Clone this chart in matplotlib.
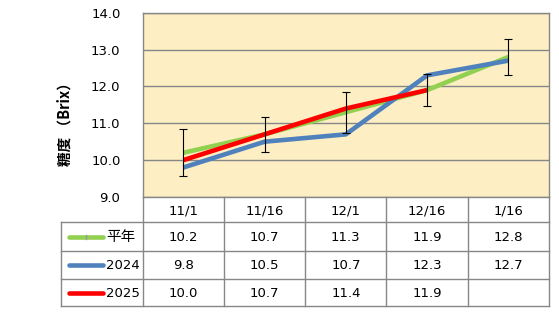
import matplotlib.pyplot as plt
from matplotlib.lines import Line2D
from matplotlib.transforms import blended_transform_factory

plt.rcParams['font.family'] = ['DejaVu Sans', 'Noto Sans CJK JP']

dates = ['11/1', '11/16', '12/1', '12/16', '1/16']
normal = [10.2, 10.7, 11.3, 11.9, 12.8]
y2024 = [9.8, 10.5, 10.7, 12.3, 12.7]
y2025 = [10.0, 10.7, 11.4, 11.9, None]
normal_err = [0.64, 0.47, 0.56, 0.43, 0.49]

series = [
    ('平年', normal, '#92D050'),
    ('2024', y2024, '#4F81BD'),
    ('2025', y2025, '#FF0000'),
]

W, H = 559, 327
fig = plt.figure(figsize=(W / 100, H / 100), dpi=100)


def fx(px):
    return px / W


def fy(py):
    return 1 - py / H


ax_l, ax_r, ax_t, ax_b = 142.7, 549.0, 12.7, 197.0
ax = fig.add_axes([fx(ax_l), fy(ax_b), fx(ax_r - ax_l), (ax_b - ax_t) / H])
ax.set_facecolor('#FDEFC3')

xs = [i + 0.5 for i in range(len(dates))]
for name, vals, color in series:
    pts = [(x, v) for x, v in zip(xs, vals) if v is not None]
    ax.plot([p[0] for p in pts], [p[1] for p in pts], color=color, lw=3.3,
            solid_capstyle='butt', solid_joinstyle='miter', zorder=3)

ax.errorbar(xs, normal, yerr=normal_err, fmt='none', ecolor='black',
            elinewidth=0.8, capsize=2.8, capthick=0.8, zorder=4)

ax.set_xlim(0, len(dates))
ax.set_ylim(9.0, 14.0)
ax.set_yticks([9, 10, 11, 12, 13, 14])
ax.set_yticklabels([f'{v:.1f}' for v in range(9, 15)], fontsize=9.5)
ax.tick_params(axis='y', length=0, pad=16)
ax.set_xticks([])
ax.grid(axis='y', color='#878787', lw=1.0)
ax.set_axisbelow(True)
for sp in ax.spines.values():
    sp.set_color('#878787')
    sp.set_linewidth(1.0)

fig.text(fx(65), fy(121), '糖度 （Brix）', rotation=90, ha='center', va='center',
         fontsize=10.5, fontweight='bold', family=['Noto Sans CJK JP', 'DejaVu Sans'])

# data table under the plot
grid_c = '#878787'
row_y = [197.0, 222.3, 250.7, 278.7, 306.3]
leg_l = 61.3
col_w = (ax_r - ax_l) / len(dates)

for y in row_y[1:]:
    fig.add_artist(Line2D([fx(leg_l), fx(ax_r)], [fy(y), fy(y)], color=grid_c, lw=1.0))
for k in range(len(dates) + 1):
    x = ax_l + k * col_w
    fig.add_artist(Line2D([fx(x), fx(x)], [fy(row_y[0]), fy(row_y[-1])], color=grid_c, lw=1.0))
fig.add_artist(Line2D([fx(leg_l), fx(leg_l)], [fy(row_y[1]), fy(row_y[-1])], color=grid_c, lw=1.0))

tr = blended_transform_factory(ax.transData, fig.transFigure)
hy = fy((row_y[0] + row_y[1]) / 2 + 1)
for x, d in zip(xs, dates):
    fig.text(x, hy, d, transform=tr, ha='center', va='center', fontsize=9.5)

for r, (name, vals, color) in enumerate(series):
    cy = (row_y[r + 1] + row_y[r + 2]) / 2 + 1
    fig.add_artist(Line2D([fx(69), fx(103)], [fy(cy - 1), fy(cy - 1)], color=color,
                          lw=3.3, solid_capstyle='round'))
    if r == 0:
        fig.add_artist(Line2D([fx(86), fx(86)], [fy(cy - 3), fy(cy + 1)], color='#9A9A9A', lw=1.0))
    fig.text(fx(106), fy(cy), name, ha='left', va='center', fontsize=10.5 if r == 0 else 9.5,
             family=['Noto Sans CJK JP', 'DejaVu Sans'] if r == 0 else ['DejaVu Sans'])
    for x, v in zip(xs, vals):
        if v is not None:
            fig.text(x, fy(cy), f'{v:.1f}', transform=tr, ha='center', va='center', fontsize=9.5)

fig.savefig('out.png', dpi=100, facecolor='white')
